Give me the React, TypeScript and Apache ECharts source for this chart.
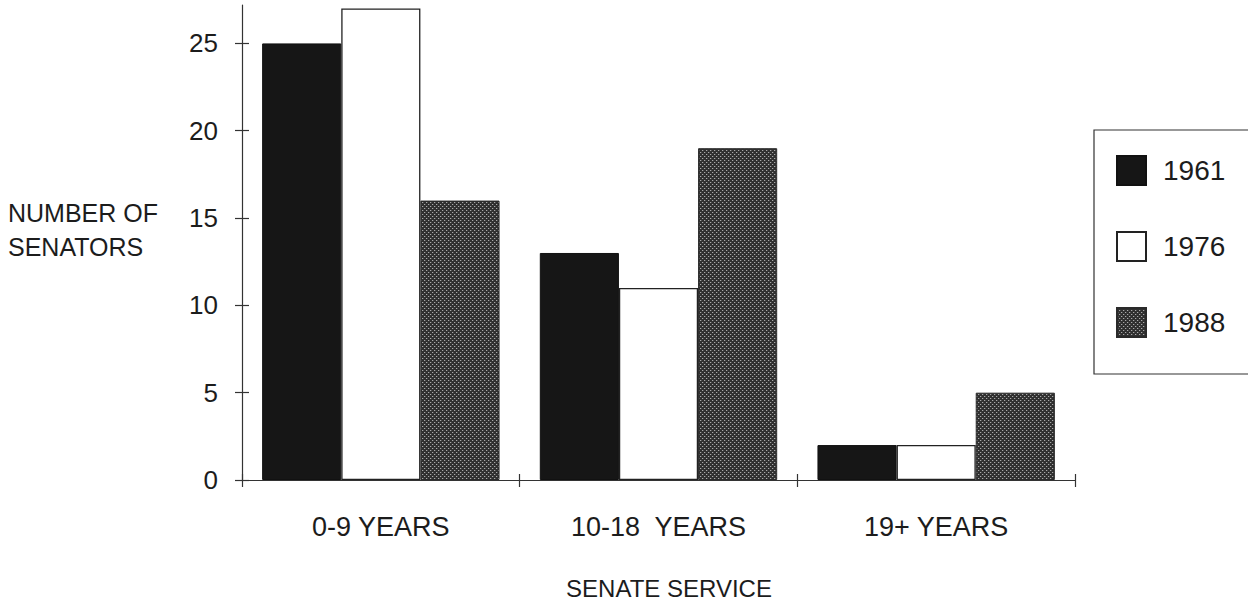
import React, { useEffect, useRef } from "react";
import * as echarts from "echarts";

const categories = ["0-9 YEARS", "10-18  YEARS", "19+ YEARS"];
const seriesNames = ["1961", "1976", "1988"];
const values1961 = [25, 13, 2];
const values1976 = [27, 11, 2];
const values1988 = [16, 19, 5];
const yTicks = [0, 5, 10, 15, 20, 25];

function makePattern(): HTMLCanvasElement {
  const c = document.createElement("canvas");
  c.width = 4;
  c.height = 4;
  const ctx = c.getContext("2d")!;
  ctx.fillStyle = "#303030";
  ctx.fillRect(0, 0, 4, 4);
  ctx.fillStyle = "#a8a8a8";
  ctx.fillRect(0, 0, 1, 1);
  ctx.fillRect(2, 2, 1, 1);
  ctx.fillStyle = "#505050";
  ctx.fillRect(1, 0, 1, 1);
  ctx.fillRect(3, 2, 1, 1);
  return c;
}

export default function App() {
  const ref = useRef<HTMLDivElement>(null);
  useEffect(() => {
    document.body.style.margin = "0";
    const chart = echarts.init(ref.current!, null, { renderer: "svg" });
    const pattern = makePattern();
    const font = "'Liberation Sans', Arial, sans-serif";
    const txt = "#1c1c1c";
    chart.setOption({
      animation: false,
      backgroundColor: "#ffffff",
      textStyle: { fontFamily: font },
      grid: { left: 242, right: 173, top: 5, bottom: 126, containLabel: false },
      legend: {
        left: 1094,
        top: 130,
        orient: "vertical",
        data: seriesNames,
        icon: "rect",
        itemWidth: 29,
        itemHeight: 29,
        itemGap: 45,
        selectedMode: false,
        padding: [25, 60, 36, 22],
        borderColor: "#333",
        borderWidth: 1.2,
        textStyle: { fontSize: 28, color: txt, lineHeight: 29, padding: [0, 0, 0, 12], fontFamily: font },
      },
      xAxis: [
        {
          type: "category",
          data: categories,
          boundaryGap: true,
          axisLine: { lineStyle: { color: "#333", width: 1.2 } },
          axisTick: { show: true, interval: 0, length: 7, lineStyle: { color: "#333", width: 1.2 } },
          axisLabel: { fontSize: 27, color: txt, margin: 33, interval: 0, fontFamily: font },
        },
        {
          type: "category",
          data: categories,
          position: "bottom",
          boundaryGap: true,
          axisLine: { show: false },
          axisTick: { show: true, inside: true, interval: 0, length: 6, lineStyle: { color: "#333", width: 1.2 } },
          axisLabel: { show: false },
        },
      ],
      yAxis: [
        {
          type: "value",
          min: 0,
          max: 27.2,
          interval: 5,
          splitLine: { show: false },
          axisLine: { show: true, lineStyle: { color: "#333", width: 1.2 } },
          axisTick: { show: true, length: 7, customValues: yTicks, lineStyle: { color: "#333", width: 1.2 } },
          axisLabel: { fontSize: 26, color: txt, margin: 24, customValues: yTicks, fontFamily: font },
        },
        {
          type: "value",
          min: 0,
          max: 27.2,
          interval: 5,
          position: "left",
          splitLine: { show: false },
          axisLine: { show: false },
          axisTick: { show: true, inside: true, length: 7, customValues: yTicks, lineStyle: { color: "#333", width: 1.2 } },
          axisLabel: { show: false },
        },
      ],
      series: [
        {
          name: seriesNames[0],
          type: "bar",
          data: values1961,
          barGap: "0%",
          barCategoryGap: "14.5%",
          itemStyle: { color: "#161616", borderColor: "#111", borderWidth: 1 },
        },
        {
          name: seriesNames[1],
          type: "bar",
          data: values1976,
          barGap: "0%",
          barCategoryGap: "14.5%",
          itemStyle: { color: "#ffffff", borderColor: "#222", borderWidth: 1.3 },
        },
        {
          name: seriesNames[2],
          type: "bar",
          data: values1988,
          barGap: "0%",
          barCategoryGap: "14.5%",
          itemStyle: {
            color: { image: pattern, repeat: "repeat" },
            borderColor: "#2a2a2a",
            borderWidth: 1,
          },
        },
      ],
      graphic: [
        {
          type: "text",
          left: 8,
          top: 196,
          style: {
            text: "NUMBER OF\nSENATORS",
            font: "25px 'Liberation Sans', Arial, sans-serif",
            fill: txt,
            lineHeight: 34,
          },
        },
        {
          type: "text",
          x: 669,
          y: 588,
          style: {
            text: "SENATE SERVICE",
            font: "24px 'Liberation Sans', Arial, sans-serif",
            fill: txt,
            align: "center",
            verticalAlign: "middle",
          },
        },
      ],
    });
    return () => chart.dispose();
  }, []);
  return (
    <div
      ref={ref}
      style={{ position: "absolute", left: 0, top: 0, width: 1248, height: 606 }}
    />
  );
}
